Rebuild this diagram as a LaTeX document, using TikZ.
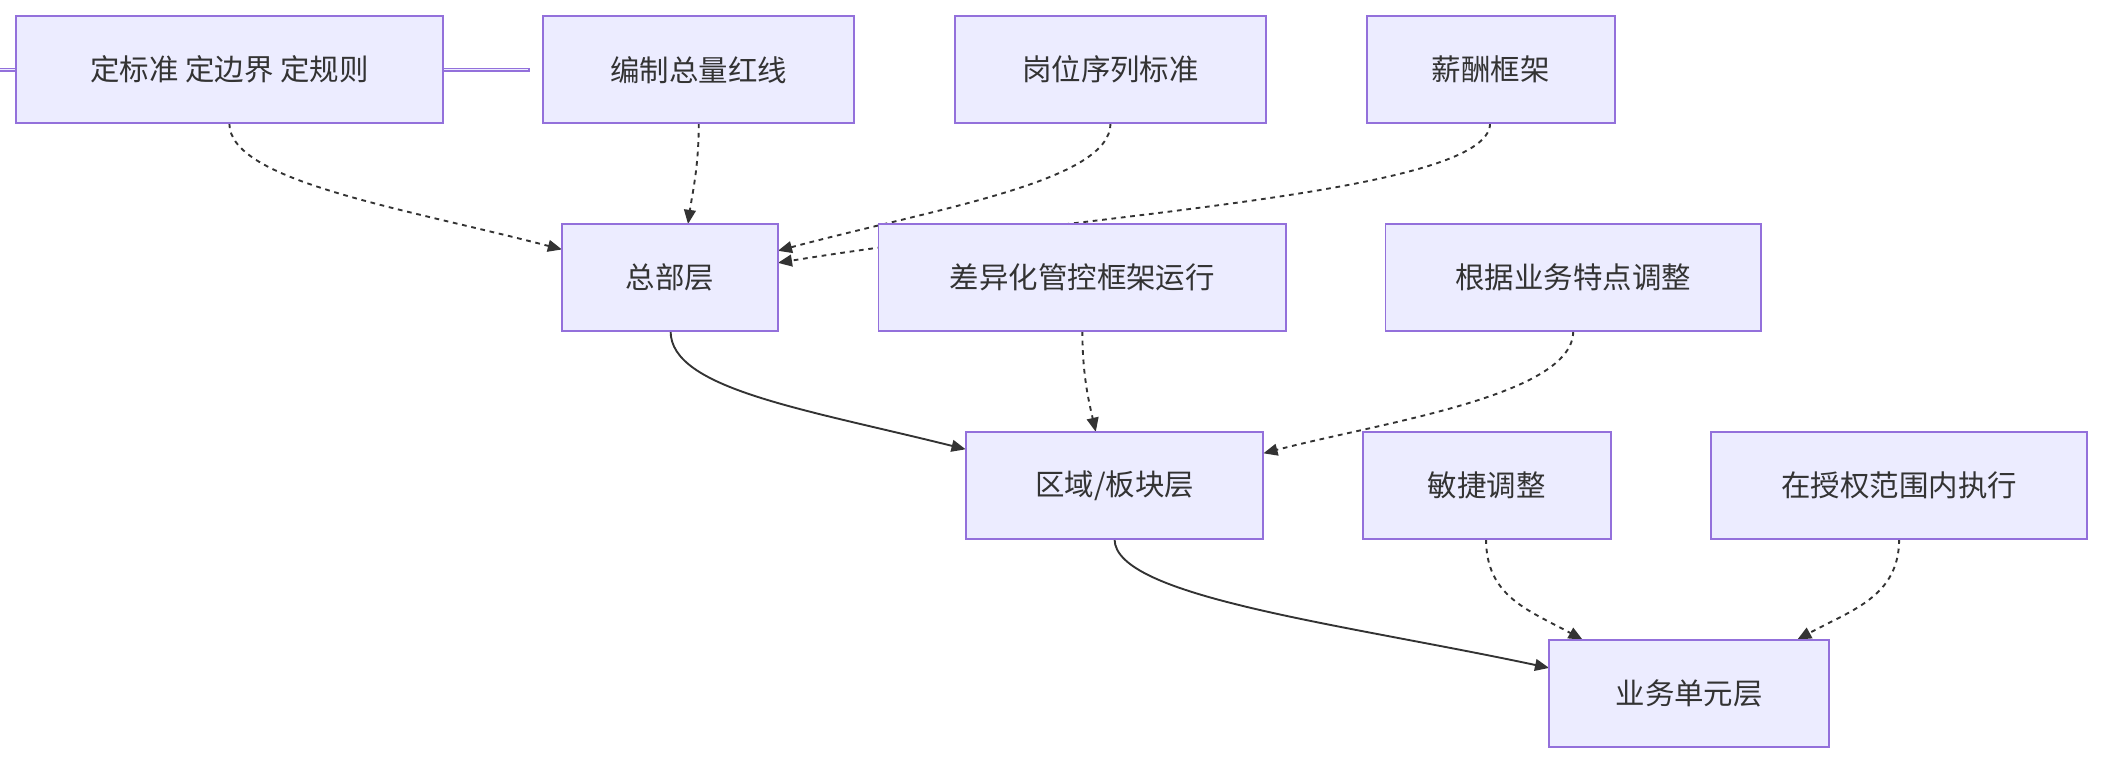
\documentclass[tikz,border=0pt]{standalone}
\usepackage{fontspec}
\setmainfont{Noto Sans CJK SC}
\usetikzlibrary{arrows.meta}
\definecolor{boxfill}{HTML}{ECECFF}
\definecolor{boxline}{HTML}{9370DB}
\definecolor{edgeline}{HTML}{333333}
\tikzset{
  box/.style={draw=boxline,fill=boxfill,line width=0.8pt,inner sep=0pt,
    font=\fontsize{12.5}{15}\selectfont,text=edgeline},
  dep/.style={draw=edgeline,line width=0.8pt,dash pattern=on 2pt off 2pt,-{Triangle[length=6pt,width=5pt]}},
  flow/.style={draw=edgeline,line width=0.8pt,-{Triangle[length=6pt,width=5pt]}}
}
\begin{document}
\begin{tikzpicture}[x=0.02cm,y=-0.02cm]
\useasboundingbox (0,0) rectangle (1568,570);
% edges first, boxes cover them
\coordinate (h1) at (419,186);
\coordinate (h2) at (513,167);
\coordinate (h3) at (580,187);
\coordinate (h4) at (580,196);
\coordinate (r1) at (817,322);
\coordinate (r2) at (942,338);
\coordinate (r3) at (720,335);
\coordinate (u1) at (1155,498);
\coordinate (u2) at (1180,477);
\coordinate (u3) at (1340,477);
\coordinate (s1) at (171,92);
\coordinate (s2) at (521,92);
\coordinate (s3) at (828,92);
\coordinate (s4) at (1111,92);
\coordinate (s5) at (500,247);
\coordinate (s6) at (807,247);
\coordinate (s7) at (1173,247);
\coordinate (s8) at (831,402);
\coordinate (s9) at (1108,402);
\coordinate (s10) at (1416,402);
\draw[dep] (s1) .. controls (171,135) and (300,155) .. (h1);
\draw[dep] (s2) .. controls (521,125) and (516,145) .. (h2);
\draw[dep] (s3) .. controls (828,135) and (700,155) .. (h3);
\draw[dep] (s4) .. controls (1111,145) and (800,160) .. (h4);
\draw[dep] (s6) .. controls (807,280) and (812,300) .. (r1);
\draw[dep] (s7) .. controls (1173,295) and (1030,315) .. (r2);
\draw[flow] (s5) .. controls (500,290) and (600,305) .. (r3);
\draw[dep] (s9) .. controls (1108,445) and (1140,455) .. (u2);
\draw[dep] (s10) .. controls (1416,445) and (1380,455) .. (u3);
\draw[flow] (s8) .. controls (831,445) and (1000,465) .. (u1);
% boxes
\node[box,minimum width=318\pgflinewidth] (std) at (171,52) {};
\draw[box] (12,12) rectangle (330,92) node[midway] (stdT) {定标准 定边界 定规则};
\draw[box] (405,12) rectangle (637,92) node[midway] (cap) {编制总量红线};
\draw[box] (712,12) rectangle (944,92) node[midway] (job) {岗位序列标准};
\draw[box] (1019,12) rectangle (1204,92) node[midway] (pay) {薪酬框架};
\draw[box] (419,167) rectangle (580,247) node[midway] (hq) {总部层};
\draw[box] (655,167) rectangle (959,247) node[midway] (diff) {差异化管控框架运行};
\draw[box] (1033,167) rectangle (1313,247) node[midway] (adapt) {根据业务特点调整};
\draw[box] (720,322) rectangle (942,402) node[midway] (reg) {区域/板块层};
\draw[box] (1016,322) rectangle (1201,402) node[midway] (agile) {敏捷调整};
\draw[box] (1276,322) rectangle (1556,402) node[midway] (exec) {在授权范围内执行};
\draw[box] (1155,477) rectangle (1364,557) node[midway] (bu) {业务单元层};
\end{tikzpicture}
\end{document}
